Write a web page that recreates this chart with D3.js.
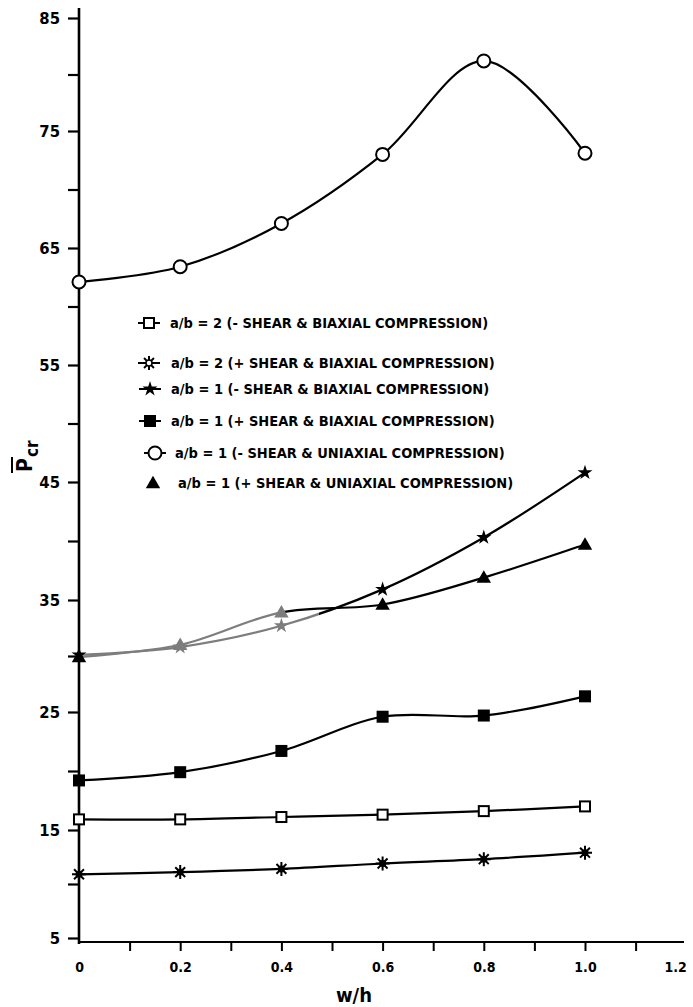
<!DOCTYPE html>
<html lang="en">
<head>
<meta charset="UTF-8">
<title>Pcr vs w/h</title>
<style>
	*{margin:0;padding:0;}
	body{background:#fff;}
	#container{width:693px;height:1007px;}
	text{font-family:"DejaVu Sans Condensed","DejaVu Sans",sans-serif;font-weight:bold;fill:#000;}
</style>
</head>
<body>
<div id="container"></div>
<script src="https://cdn.jsdelivr.net/npm/d3@7/dist/d3.min.js"></script>
<script>
	// data
	var wh = [0, 0.2, 0.4, 0.6, 0.8, 1.0]
	var sq2Minus = [15.9, 15.9, 16.1, 16.3, 16.6, 17.0]      // a/b=2 (- shear, biaxial)
	var burst2Plus = [10.9, 11.1, 11.4, 11.9, 12.3, 12.9]    // a/b=2 (+ shear, biaxial)
	var star1Minus = [30.1, 30.8, 32.7, 35.9, 40.3, 45.8]    // a/b=1 (- shear, biaxial)
	var sq1Plus = [19.2, 19.9, 21.7, 24.6, 24.7, 26.4]       // a/b=1 (+ shear, biaxial)
	var circ1Minus = [62.1, 63.4, 67.1, 73.0, 81.2, 73.1]    // a/b=1 (- shear, uniaxial)
	var tri1Plus = [29.9, 31.0, 33.9, 34.6, 36.9, 39.7]      // a/b=1 (+ shear, uniaxial)

	var legendLabels = [
		'a/b = 2 (- SHEAR & BIAXIAL COMPRESSION)',
		'a/b = 2 (+ SHEAR & BIAXIAL COMPRESSION)',
		'a/b = 1 (- SHEAR & BIAXIAL COMPRESSION)',
		'a/b = 1 (+ SHEAR & BIAXIAL COMPRESSION)',
		'a/b = 1 (- SHEAR & UNIAXIAL COMPRESSION)',
		'a/b = 1 (+ SHEAR & UNIAXIAL COMPRESSION)'
	]
	var yLabelTicks = [5, 15, 25, 35, 45, 55, 65, 75, 85]
	var yAllTicks = [5, 10, 15, 20, 25, 30, 35, 40, 45, 50, 55, 60, 65, 70, 75, 80, 85]
	var xLabelTicks = [0, 0.2, 0.4, 0.6, 0.8, 1.0, 1.2]
	var xMinorTicks = [0.1, 0.2, 0.3, 0.4, 0.5, 0.6, 0.7, 0.8, 0.9, 1.0, 1.1]

	var W = 693, H = 1007
	var gray = '#7d7d7d'
	var svg = d3.select('#container').append('svg').attr('width', W).attr('height', H)

	var x = d3.scaleLinear().domain([0, 1.0]).range([79, 585])
	// the hand-drawn axis is slightly uneven, so the scale follows the drawn major ticks
	var y = d3.scaleLinear().domain(yLabelTicks)
		.range([938, 830, 712, 600, 482, 365, 248, 131, 18])
	var axisY = 942

	// axes
	var ya = svg.append('g').attr('transform', 'translate(79,0)')
		.call(d3.axisLeft(y).tickValues(yAllTicks).tickSize(11).tickPadding(8)
			.tickFormat(function(d){ return yLabelTicks.indexOf(d) >= 0 ? d : '' }))
	ya.select('.domain').remove()
	ya.selectAll('line').attr('stroke-width', 2.2)
	ya.selectAll('text').attr('font-size', 16.5).attr('font-family', null)

	var xa = svg.append('g').attr('transform', 'translate(0,' + axisY + ')')
		.call(d3.axisBottom(x).tickValues(xMinorTicks).tickSize(9).tickFormat(''))
	xa.select('.domain').remove()
	xa.selectAll('line').attr('stroke-width', 2)

	var xl = svg.append('g').attr('transform', 'translate(0,' + axisY + ')')
		.call(d3.axisBottom(x).tickValues(xLabelTicks).tickSize(0).tickPadding(20)
			.tickFormat(function(d){ return d === 0 ? '0' : d3.format('.1f')(d) }))
	xl.select('.domain').remove()
	xl.selectAll('text').attr('font-size', 14).attr('font-family', null)
	xl.selectAll('.tick').filter(function(d){ return d === 1.2 }).select('text')
		.attr('text-anchor', 'end').attr('dx', 0)

	svg.append('line').attr('x1', 79).attr('x2', 79).attr('y1', 8).attr('y2', axisY + 2)
		.attr('stroke', '#000').attr('stroke-width', 2.6)
	svg.append('line').attr('x1', 79).attr('x2', 684).attr('y1', axisY).attr('y2', axisY)
		.attr('stroke', '#000').attr('stroke-width', 2.2)

	// axis titles
	svg.append('text').attr('x', 354).attr('y', 1002).attr('text-anchor', 'middle')
		.attr('font-size', 20).text('w/h')
	var yt = svg.append('g').attr('transform', 'translate(32,472) rotate(-90)')
	yt.append('text').attr('x', 0).attr('y', 0).attr('font-size', 21).text('P')
	yt.append('line').attr('x1', -1).attr('x2', 15).attr('y1', -20).attr('y2', -20)
		.attr('stroke', '#000').attr('stroke-width', 2)
	yt.append('text').attr('x', 15).attr('y', 6).attr('font-size', 17).text('cr')

	// gradients for the lines that start grey
	var defs = svg.append('defs')
	function grayToBlack(id, xv) {
		var g = defs.append('linearGradient').attr('id', id).attr('gradientUnits', 'userSpaceOnUse')
			.attr('x1', x(0)).attr('x2', x(1)).attr('y1', 0).attr('y2', 0)
		var o = (x(xv) - x(0)) / (x(1) - x(0))
		g.append('stop').attr('offset', o).attr('stop-color', gray)
		g.append('stop').attr('offset', o).attr('stop-color', '#000')
	}
	grayToBlack('gStar', 0.475)
	grayToBlack('gTri', 0.4)

	var line = d3.line().x(function(d){ return x(d[0]) }).y(function(d){ return y(d[1]) })
		.curve(d3.curveCatmullRom.alpha(0.5))

	function marker(g, type, cx, cy, col) {
		if (type === 'sqOpen') {
			g.append('rect').attr('x', cx - 5).attr('y', cy - 5).attr('width', 10).attr('height', 10)
				.attr('fill', '#fff').attr('stroke', col).attr('stroke-width', 2)
		} else if (type === 'sqFill') {
			g.append('rect').attr('x', cx - 6).attr('y', cy - 6).attr('width', 12).attr('height', 12)
				.attr('fill', col)
		} else if (type === 'circle') {
			g.append('circle').attr('cx', cx).attr('cy', cy).attr('r', 6.5)
				.attr('fill', '#fff').attr('stroke', col).attr('stroke-width', 2)
		} else if (type === 'tri') {
			g.append('path').attr('d', d3.symbol(d3.symbolTriangle, 90)())
				.attr('transform', 'translate(' + cx + ',' + (cy + 1) + ')').attr('fill', col)
		} else if (type === 'star') {
			g.append('path').attr('d', d3.symbol(d3.symbolStar, 70)())
				.attr('transform', 'translate(' + cx + ',' + cy + ')').attr('fill', col)
		} else if (type === 'burst' || type === 'sun') {
			var p = ''
			for (var k = 0; k < 8; k++) {
				var a = k * Math.PI / 4
				p += 'M' + (cx + Math.cos(a) * 2) + ',' + (cy + Math.sin(a) * 2) +
					'L' + (cx + Math.cos(a) * 7) + ',' + (cy + Math.sin(a) * 7)
			}
			g.append('path').attr('d', p).attr('stroke', col).attr('stroke-width', 2)
			if (type === 'burst') g.append('circle').attr('cx', cx).attr('cy', cy).attr('r', 3.5).attr('fill', col)
			else g.append('circle').attr('cx', cx).attr('cy', cy).attr('r', 3).attr('fill', '#fff').attr('stroke', col).attr('stroke-width', 1.5)
		}
	}

	var series = [
		{ vals: sq2Minus, type: 'sqOpen', stroke: '#000' },
		{ vals: burst2Plus, type: 'burst', stroke: '#000' },
		{ vals: sq1Plus, type: 'sqFill', stroke: '#000' },
		{ vals: circ1Minus, type: 'circle', stroke: '#000' },
		{ vals: tri1Plus, type: 'tri', stroke: 'url(#gTri)', grayUpTo: 0.4 },
		{ vals: star1Minus, type: 'star', stroke: 'url(#gStar)', grayUpTo: 0.4 }
	]

	var plot = svg.append('g')
	series.forEach(function(s) {
		var pts = wh.map(function(w, i){ return [w, s.vals[i]] })
		plot.append('path').attr('d', line(pts)).attr('fill', 'none')
			.attr('stroke', s.stroke).attr('stroke-width', 2.2)
	})
	series.forEach(function(s) {
		wh.forEach(function(w, i) {
			var col = (s.grayUpTo && w > 0 && w <= s.grayUpTo) ? gray : '#000'
			marker(plot, s.type, x(w), y(s.vals[i]), col)
		})
	})

	// legend
	var legendTypes = ['sqOpen', 'sun', 'star', 'sqFill', 'circle', 'tri']
	var legY = [323, 363, 389, 421, 453, 483]
	var legMx = [149, 149, 150, 150, 155, 153]
	var legTx = [170, 171, 171, 171, 175, 178]
	var leg = svg.append('g')
	legendLabels.forEach(function(t, i) {
		if (i < 5) leg.append('line').attr('x1', legMx[i] - 11).attr('x2', legMx[i] + 11)
			.attr('y1', legY[i]).attr('y2', legY[i]).attr('stroke', '#000').attr('stroke-width', 2)
		marker(leg, legendTypes[i], legMx[i], legY[i], '#000')
		leg.append('text').attr('x', legTx[i]).attr('y', legY[i] + 5).attr('font-size', 14.5).text(t)
	})
</script>
</body>
</html>
